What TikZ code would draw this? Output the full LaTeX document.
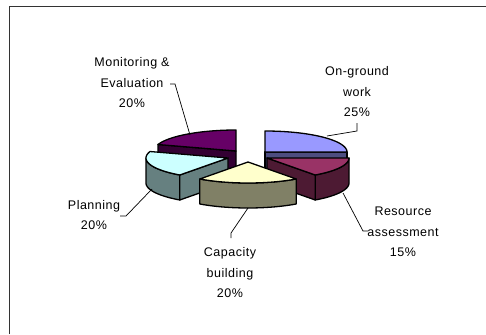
\documentclass[tikz,border=0pt]{standalone}
\usepackage{fontspec}
\setmainfont[LetterSpace=4]{Liberation Sans}
\definecolor{bluetop}{HTML}{9999FF}
\definecolor{blueside}{HTML}{4D4D80}
\definecolor{redtop}{HTML}{993366}
\definecolor{redside}{HTML}{4D1A33}
\definecolor{yeltop}{HTML}{FFFFCC}
\definecolor{yelside}{HTML}{808066}
\definecolor{platop}{HTML}{CCFFFF}
\definecolor{plaside}{HTML}{668080}
\definecolor{montop}{HTML}{660066}
\definecolor{monside}{HTML}{330033}
\newcommand{\outerside}[5]{\filldraw[edge,fill=#5] plot[domain=#3:#4,samples=30] ({#1+82*cos(\x)},{#2-21*sin(\x)}) -- plot[domain=#4:#3,samples=30] ({#1+82*cos(\x)},{#2+25-21*sin(\x)}) -- cycle;}
\newcommand{\radialface}[4]{\filldraw[edge,fill=#4] (#1,#2) -- ({#1+82*cos(#3)},{#2-21*sin(#3)}) -- ({#1+82*cos(#3)},{#2+25-21*sin(#3)}) -- (#1,{#2+25}) -- cycle;}
\newcommand{\topface}[5]{\filldraw[edge,fill=#5] (#1,#2) -- plot[domain=#3:#4,samples=30] ({#1+82*cos(\x)},{#2-21*sin(\x)}) -- cycle;}
\begin{document}
\begin{tikzpicture}[x=1pt,y=-1pt,
  edge/.style={draw=black,line width=1.3pt,line join=round},
  lbl/.style={align=center,font=\fontsize{12.5}{20.5}\selectfont,inner sep=0pt},
  leader/.style={draw=black,line width=0.7pt}]
\useasboundingbox (0,0) rectangle (486,334);
\draw[line width=1.5pt,color=black!80] (9.5,334) -- (9.5,6.5) -- (486,6.5);
% Monitoring & Evaluation (back left)
\radialface{236}{151}{162}{monside}
\topface{236}{151}{90}{162}{montop}
% On-ground work (back right)
\radialface{265}{152}{0}{blueside}
\topface{265}{152}{0}{90}{bluetop}
% Planning
\outerside{228}{158}{180}{234}{plaside}
\radialface{228}{158}{234}{plaside}
\topface{228}{158}{162}{234}{platop}
% Resource assessment
\outerside{267}{158}{-54}{0}{redside}
\radialface{267}{158}{-54}{redside}
\topface{267}{158}{-54}{0}{redtop}
% Capacity building
\outerside{248}{162}{-126}{-54}{yelside}
\topface{248}{162}{-126}{-54}{yeltop}
% labels
\node[lbl] (mon) at (132,83) {Monitoring \&\\Evaluation\\20\%};
\node[lbl] (ong) at (357,92) {On-ground\\work\\25\%};
\node[lbl] (res) at (403,232) {Resource\\assessment\\15\%};
\node[lbl] (cap) at (230,273) {Capacity\\building\\20\%};
\node[lbl] (pla) at (94,215) {Planning\\20\%};
% leader points
\coordinate (m1) at (170,84); \coordinate (m2) at (175,84); \coordinate (m3) at (190,135);
\coordinate (o1) at (357,123); \coordinate (o2) at (357,131); \coordinate (o3) at (327,136);
\coordinate (r1) at (368,231); \coordinate (r2) at (363,231); \coordinate (r3) at (343,193);
\coordinate (c1) at (231,238); \coordinate (c2) at (231,233); \coordinate (c3) at (248,208);
\coordinate (p1) at (120,216); \coordinate (p2) at (126,216); \coordinate (p3) at (152,189);
\draw[leader] (m1) -- (m2) -- (m3);
\draw[leader] (o1) -- (o2) -- (o3);
\draw[leader] (r1) -- (r2) -- (r3);
\draw[leader] (c1) -- (c2) -- (c3);
\draw[leader] (p1) -- (p2) -- (p3);
\end{tikzpicture}
\end{document}
